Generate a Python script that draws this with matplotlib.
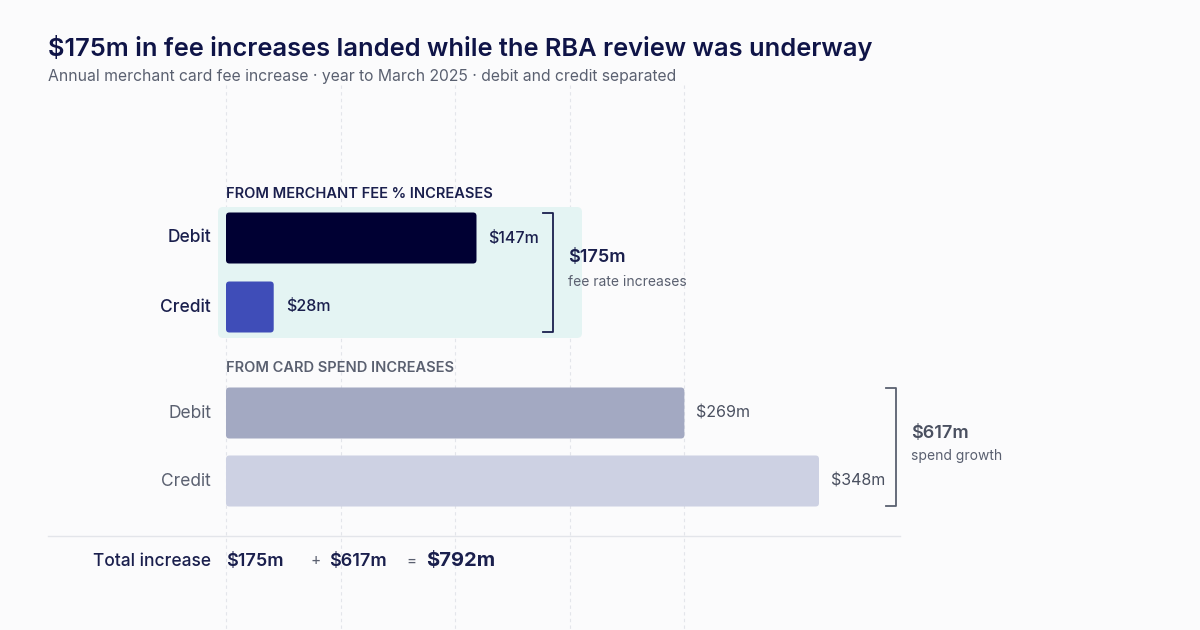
import matplotlib
matplotlib.use("Agg")
import matplotlib.pyplot as plt
from matplotlib.patches import FancyBboxPatch

plt.rcParams['font.family'] = ['Inter', 'DejaVu Sans']

groups = ["FROM MERCHANT FEE % INCREASES", "FROM CARD SPEND INCREASES"]
labels = ["Debit", "Credit", "Debit", "Credit"]
values = [147, 28, 269, 348]
colors = ["#000033", "#3f4db8", "#a3a9c2", "#cdd1e3"]
totals = [175, 617, 792]
notes = ["fee rate increases", "spend growth"]

PX = 1.704          # pixels per $m
X0 = 226            # pixel where $0 sits
fig = plt.figure(figsize=(12, 6.3), dpi=100)
fig.patch.set_facecolor("#fbfbfc")
ax = fig.add_axes([0, 0, 1, 1])
ax.set_xlim(-X0 / PX, (1200 - X0) / PX)
ax.set_ylim(630, 0)
ax.axis("off")

def px(x):
    return (x - X0) / PX

# grid
for g in [0, 67.2, 134.4, 201.6, 268.8]:
    ax.plot([g, g], [85, 630], color="#e3e5ea", lw=0.8, ls=(0, (3, 3)), zorder=0)

# highlight panel
ax.add_patch(FancyBboxPatch((px(218), 207), (582 - 218) / PX, 131,
             boxstyle="round,pad=0,rounding_size=3", mutation_aspect=PX,
             fc="#e4f4f3", ec="none", zorder=1))

ax.text(px(48), 48, "$175m in fee increases landed while the RBA review was underway",
        fontsize=18.3, fontweight="semibold", color="#0f1447", va="center")
ax.text(px(48), 77, "Annual merchant card fee increase \u00b7 year to March 2025 \u00b7 debit and credit separated",
        fontsize=11.3, color="#5a6070", va="center")

ax.text(0, 194, groups[0], fontsize=10.5, fontweight="semibold", color="#1a1f4d", va="center")
ax.text(0, 368, groups[1], fontsize=10.5, fontweight="semibold", color="#5a6070", va="center")

ys = [238, 307, 413, 481]
for i, (lab, v, c, y) in enumerate(zip(labels, values, colors, ys)):
    ax.add_patch(FancyBboxPatch((0, y - 25.5), v, 51,
                 boxstyle="round,pad=0,rounding_size=2", mutation_aspect=PX,
                 fc=c, ec="none", zorder=2))
    dark = i < 2
    ax.text(px(211), y, lab, ha="right", va="center", fontsize=12.5,
            fontweight="medium" if dark else "normal",
            color="#1a1f4d" if dark else "#5a6070")
    ax.text(v + 7, y, f"${v}m", va="center", fontsize=11.5,
            fontweight="medium" if dark else "normal",
            color="#1a1f4d" if dark else "#4a5060")

# brackets
def bracket(xp, y1, y2, col):
    x, xl = px(xp), px(xp - 10)
    ax.plot([xl, x, x, xl], [y1, y1, y2, y2], color=col, lw=1.3, zorder=3)

bracket(553, 213, 332, "#1a1f4d")
bracket(896, 388, 506, "#5a6070")
ax.text(px(568), 257, f"${totals[0]}m", fontsize=13, fontweight="semibold", color="#1a1f4d", va="center")
ax.text(px(568), 282, notes[0], fontsize=10, color="#5a6070", va="center")
ax.text(px(911), 433, f"${totals[1]}m", fontsize=13, fontweight="semibold", color="#4a5060", va="center")
ax.text(px(911), 456, notes[1], fontsize=10, color="#5a6070", va="center")

# total row
ax.plot([px(48), px(900)], [536, 536], color="#e3e5ea", lw=1)
ax.text(px(211), 561, "Total increase", ha="right", va="center", fontsize=12.5,
        fontweight="medium", color="#1a1f4d")
ax.text(0, 561, f"${totals[0]}m", va="center", fontsize=13, fontweight="semibold", color="#1a1f4d")
ax.text(px(310), 561, "+", va="center", fontsize=11, color="#5a6070")
ax.text(px(329), 561, f"${totals[1]}m", va="center", fontsize=13, fontweight="semibold", color="#1a1f4d")
ax.text(px(406), 561, "=", va="center", fontsize=11, color="#5a6070")
ax.text(px(426), 561, f"${totals[2]}m", va="center", fontsize=14.5, fontweight="bold", color="#1a1f4d")

fig.savefig("out.png", dpi=100, facecolor=fig.get_facecolor())
